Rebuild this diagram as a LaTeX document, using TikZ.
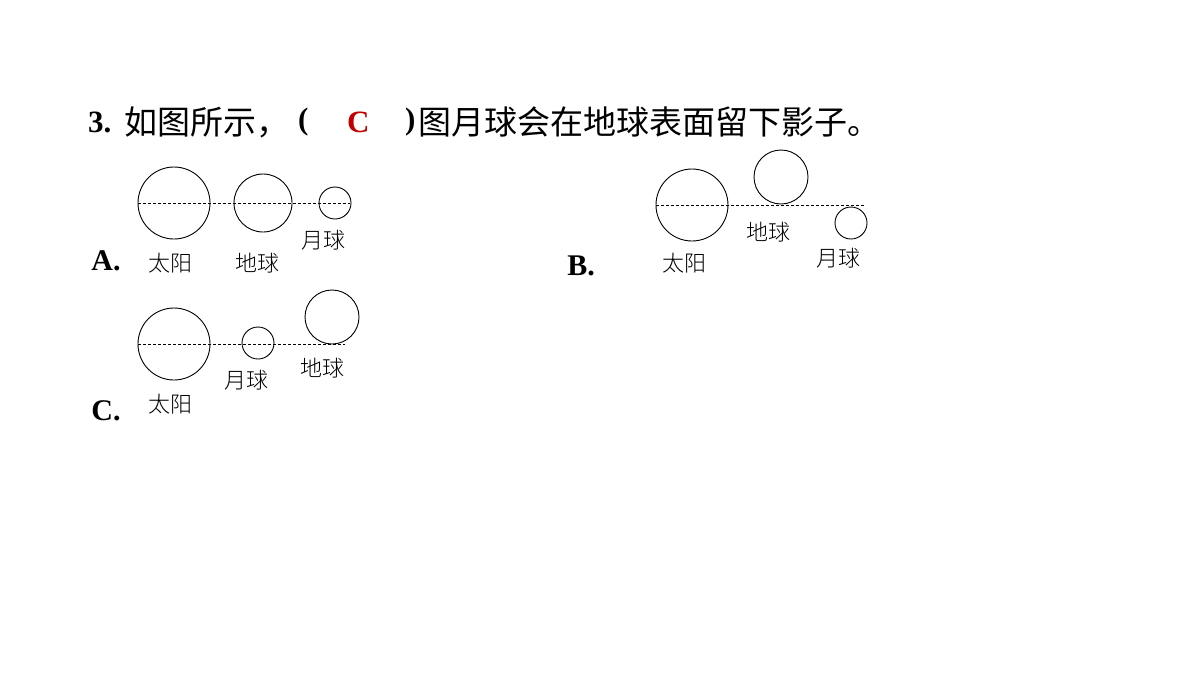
\documentclass[tikz,border=0pt]{standalone}
\usepackage{fontspec}
\setmainfont{Liberation Serif}
\newfontfamily\cjk{Noto Sans CJK SC}
\newfontfamily\cjkl{Noto Sans CJK SC Light}
\definecolor{ansred}{HTML}{C00000}
\begin{document}
\begin{tikzpicture}[x=1pt,y=-1pt,
  orb/.style={draw,line width=0.9pt},
  axis/.style={dashed,line width=0.7pt,dash pattern=on 3pt off 2pt},
  lab/.style={font=\cjkl\fontsize{22}{22}\selectfont},
  opt/.style={font=\bfseries\fontsize{30}{30}\selectfont},
  ttl/.style={anchor=west,inner sep=0pt}]
\useasboundingbox (0,0) rectangle (1200,675);
% title
\node[ttl,font=\bfseries\fontsize{31}{31}\selectfont] (t1) at (88,122) {3.};
\node[ttl,font=\cjk\fontsize{33}{33}\selectfont] (t2) at (124,122) {如图所示，};
\node[ttl,font=\bfseries\fontsize{31}{31}\selectfont] (t3) at (298,122) {(};
\node[ttl,font=\bfseries\fontsize{31}{31}\selectfont,text=ansred] (t4) at (347,122) {C};
\node[ttl,font=\bfseries\fontsize{31}{31}\selectfont] (t5) at (405,122) {)};
\node[ttl,font=\cjk\fontsize{33}{33}\selectfont] (t6) at (418,122) {图月球会在地球表面留下影子。};
% A
\draw[axis] (138,203) -- (350,203);
\node[orb,circle,minimum size=72pt,inner sep=0pt] (as) at (174,203) {};
\node[orb,circle,minimum size=58pt,inner sep=0pt] (ae) at (263,203) {};
\node[orb,circle,minimum size=32pt,inner sep=0pt] (am) at (335,203) {};
\node[lab] (asl) at (170,263) {太阳};
\node[lab] (ael) at (257,263) {地球};
\node[lab] (aml) at (323,240) {月球};
\node[opt] (A) at (106,261) {A.};
% B
\draw[axis] (656,205) -- (865,205);
\node[orb,circle,minimum size=72pt,inner sep=0pt] (bs) at (692,205) {};
\node[orb,circle,minimum size=54pt,inner sep=0pt] (be) at (781,177) {};
\node[orb,circle,minimum size=32pt,inner sep=0pt] (bm) at (851,223) {};
\node[lab] (bsl) at (684,263) {太阳};
\node[lab] (bel) at (768,232) {地球};
\node[lab] (bml) at (838,258) {月球};
\node[opt] (B) at (581,266) {B.};
% C
\draw[axis] (138,344) -- (345,344);
\node[orb,circle,minimum size=72pt,inner sep=0pt] (cs) at (174,344) {};
\node[orb,circle,minimum size=32pt,inner sep=0pt] (cm) at (258,343) {};
\node[orb,circle,minimum size=54pt,inner sep=0pt] (ce) at (332,317) {};
\node[lab] (csl) at (170,404) {太阳};
\node[lab] (cml) at (246,380) {月球};
\node[lab] (cel) at (322,368) {地球};
\node[opt] (C) at (106,411) {C.};
\end{tikzpicture}
\end{document}
